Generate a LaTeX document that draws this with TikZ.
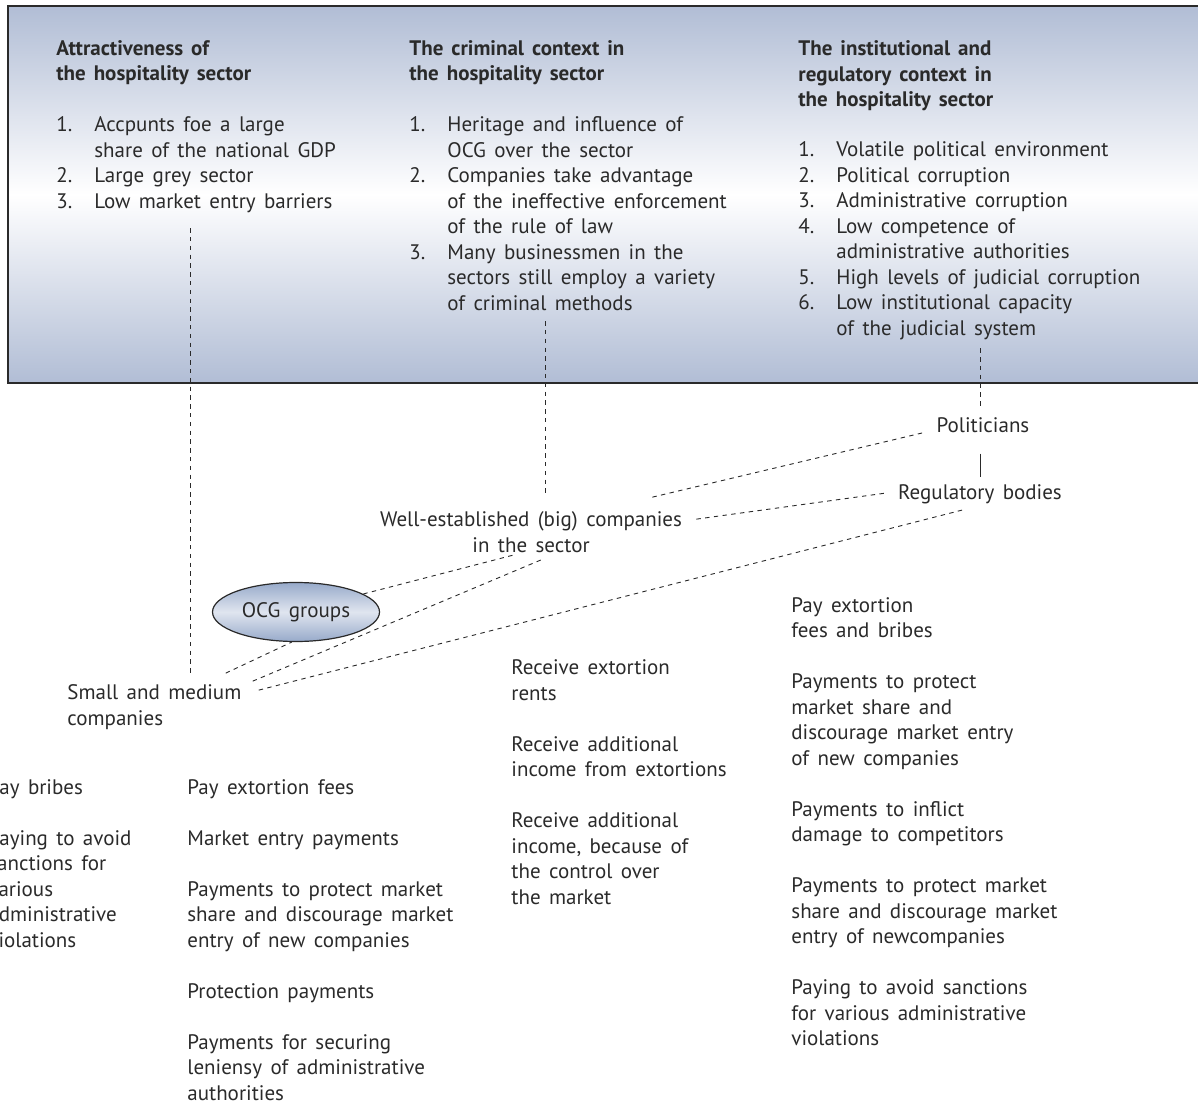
\documentclass[tikz,border=0pt]{standalone}
\usepackage{fontspec}
\setmainfont{PT Sans}[WordSpace=1.5]
\usepackage{tikz}
\usetikzlibrary{calc,shapes.geometric}

\definecolor{boxBlue}{HTML}{B1BDD5}
\definecolor{ocgBlue}{HTML}{97AACA}
\definecolor{txt}{HTML}{2A2A2A}

\newcommand{\itm}[1]{\makebox[19pt][l]{#1.}}
\newcommand{\ind}{\hspace*{19pt}}

\begin{document}
\begin{tikzpicture}[x=0.5pt,y=-0.5pt,
  every node/.style={text=txt,inner sep=0pt,font=\fontsize{10.5}{12.75}\selectfont},
  head/.style={anchor=base west,align=left,font=\fontsize{10.5}{12.75}\selectfont\bfseries},
  itemlist/.style={anchor=base west,align=left},
  lbl/.style={anchor=base,align=center},
  link/.style={draw=txt,dash pattern=on 2.2pt off 2.2pt,line width=0.45pt},
  tie/.style={draw=txt,line width=0.5pt}]
\def\gap{12.75pt}
\useasboundingbox (0,0) rectangle (1198,1106);
\clip (0,0) rectangle (1198,1106);

% context box (nodes are placed at the baseline of their last line)
\shade[top color=boxBlue,bottom color=boxBlue,middle color=white] (8,6) rectangle (1210,383);
\draw[txt,line width=0.8pt] (1210,6) -- (8,6) -- (8,383) -- (1210,383);

\node[head] (t1) at (56,81) {Attractiveness of\\the hospitality sector};
\node[itemlist] (l1) at (56,208.5) {\itm{1}Accpunts foe a large\\\ind share of the national GDP\\\itm{2}Large grey sector\\\itm{3}Low market entry barriers};

\node[head] (t2) at (409,81) {The criminal context in\\the hospitality sector};
\node[itemlist] (l2) at (409,310.5) {\itm{1}Heritage and influence of\\\ind OCG over the sector\\\itm{2}Companies take advantage\\\ind of the ineffective enforcement\\\ind of the rule of law\\\itm{3}Many businessmen in the\\\ind sectors still employ a variety\\\ind of criminal methods};

\node[head] (t3) at (798,107) {The institutional and\\regulatory context in\\the hospitality sector};
\node[itemlist] (l3) at (798,335.5) {\itm{1}Volatile political environment\\\itm{2}Political corruption\\\itm{3}Administrative corruption\\\itm{4}Low competence of\\\ind administrative authorities\\\itm{5}High levels of judicial corruption\\\itm{6}Low institutional capacity\\\ind of the judicial system};

% actors
\node[lbl] (pol) at (983,433) {Politicians};
\node[lbl] (reg) at (980,500) {Regulatory bodies};
\node[lbl] (wel) at (531,552) {Well-established (big) companies\\in the sector};
\node[ellipse,draw=txt,line width=0.6pt,top color=ocgBlue,bottom color=ocgBlue,
  middle color=ocgBlue!30!white,minimum width=83.5pt,minimum height=29.5pt] (ocg) at (296,612) {OCG groups};
\node[itemlist] (sme) at (67,725) {Small and medium\\companies};

\coordinate (x1) at (190,0);
\coordinate (x2) at (545,0);
\coordinate (x3) at (980,0);
\draw[link] ($(l1.south -| x1)+(0,15)$) -- ($(sme.north -| x1)+(0,-11)$);
\draw[link] ($(l2.south -| x2)+(0,10)$) -- ($(wel.north -| x2)+(0,-14)$);
\draw[link] ($(l3.south -| x3)+(0,8)$) -- ($(pol.north -| x3)+(0,-9)$);
\draw[tie] ($(pol.south -| x3)+(0,20)$) -- ($(reg.north -| x3)+(0,-8)$);

\draw[link] ($(wel.north east)+(-30,-14)$) -- ($(pol.west)+(-13,7)$);
\draw[link] ($(wel.north east)+(14,8)$) -- ($(reg.west)+(-10,-2)$);
\draw[link] ($(sme.north east)+(17,6)$) -- ($(reg.south)+(-17,5)$);
\draw[link] (ocg.15) -- ($(wel.south)+(-16,2)$);
\draw[link] ($(sme.north east)+(11,-3)$) -- ($(wel.south)+(13,6)$);
\draw[link] ($(sme.north east)+(-16,-11)$) -- (ocg.-98);

% payments
\node[itemlist] (cA) at (-12,947) {Pay bribes\\[\gap]Paying to avoid\\sanctions for\\various\\administrative\\violations};
\node[itemlist] (cB) at (187,1100) {Pay extortion fees\\[\gap]Market entry payments\\[\gap]Payments to protect market\\share and discourage market\\entry of new companies\\[\gap]Protection payments\\[\gap]Payments for securing\\leniensy of administrative\\authorities};
\node[itemlist] (cC) at (511,904) {Receive extortion\\rents\\[\gap]Receive additional\\income from extortions\\[\gap]Receive additional\\income, because of\\the control over\\the market};
\node[itemlist] (cD) at (791,1045.5) {Pay extortion\\fees and bribes\\[\gap]Payments to protect\\market share and\\discourage market entry\\of new companies\\[\gap]Payments to inflict\\damage to competitors\\[\gap]Payments to protect market\\share and discourage market\\entry of newcompanies\\[\gap]Paying to avoid sanctions\\for various administrative\\violations};
\end{tikzpicture}
\end{document}
